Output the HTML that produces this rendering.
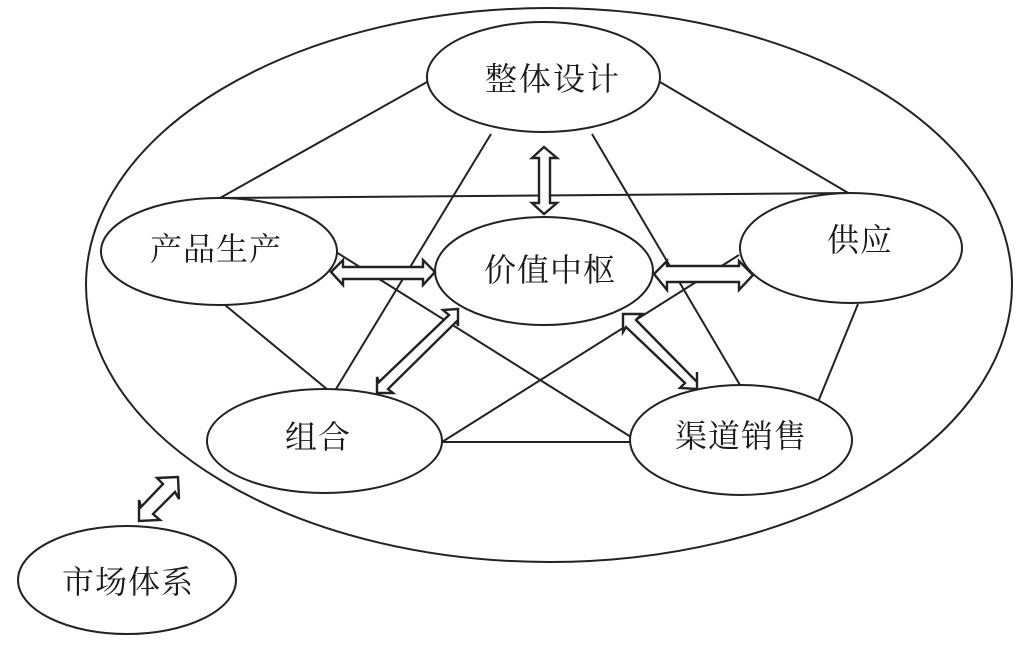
<!DOCTYPE html>
<html lang="zh">
<head>
<meta charset="utf-8">
<title>市场体系图</title>
<style>
html,body{margin:0;padding:0;background:#fff;width:1027px;height:653px;overflow:hidden}
svg{display:block}
text{font-family:"Liberation Serif","Noto Serif CJK SC",serif;font-size:32px;fill:#1a1a1a;letter-spacing:1px}
.l{stroke:#222;stroke-width:2;fill:none}
.e{stroke:#222;stroke-width:2;fill:#fff}
.a{stroke:#222;stroke-width:2.4;fill:#fff;stroke-linejoin:miter}
</style>
</head>
<body>
<svg width="1027" height="653" viewBox="0 0 1027 653" xmlns="http://www.w3.org/2000/svg">
<ellipse class="l" cx="549" cy="285" rx="463" ry="277"/>
<g class="l">
<line x1="427" y1="82" x2="220" y2="198"/>
<line x1="660" y1="82" x2="850" y2="194"/>
<line x1="220" y1="198" x2="850" y2="193"/>
<line x1="491" y1="134" x2="336" y2="389"/>
<line x1="592" y1="134" x2="740" y2="385"/>
<line x1="336" y1="252" x2="631" y2="437"/>
<line x1="225" y1="305" x2="328" y2="390"/>
<line x1="858" y1="304" x2="818" y2="402"/>
<line x1="442" y1="442" x2="739" y2="255"/>
<line x1="442" y1="442" x2="631" y2="442"/>
</g>
<ellipse class="e" cx="543.5" cy="77" rx="116.5" ry="55"/>
<ellipse class="e" cx="219" cy="251.5" rx="118" ry="53.5"/>
<ellipse class="e" cx="544" cy="271" rx="109" ry="54"/>
<ellipse class="e" cx="851" cy="248" rx="111" ry="55"/>
<ellipse class="e" cx="324.5" cy="441" rx="117.5" ry="52"/>
<ellipse class="e" cx="741" cy="440" rx="111" ry="55"/>
<ellipse class="e" cx="127" cy="580" rx="109" ry="54"/>
<polygon class="a" points="544,147 557,158 550,158 550,203 557,203 544,214 532,203 539,203 539,158 532,158"/>
<polygon class="a" points="331,272 343,260 343,267 423,267 423,260 435,272 423,285 423,279 343,279 343,285"/>
<polygon class="a" points="654,274 667,261 667,266 739,266 739,261 753,275 739,290 739,282 667,282 667,290"/>
<polygon class="a" points="458,309 443,310 449,315 379,382 377,377 377,393 393,393 388,389 457,321 458,326"/>
<polygon class="a" points="623,314 642,314 636,320 697,382 697,372 697,389 680,388 685,383 626,327 623,332"/>
<polygon class="a" points="178,477 157,478 163,484 141,507 139,500 139,521 160,520 153,514 175,492 179,499"/>
<text x="485" y="90" style="letter-spacing:2px">整体设计</text>
<text x="150" y="260">产品生产</text>
<text x="484" y="281">价值中枢</text>
<text x="827" y="251">供应</text>
<text x="285" y="448">组合</text>
<text x="675" y="447">渠道销售</text>
<text x="62" y="593">市场体系</text>
</svg>
</body>
</html>
